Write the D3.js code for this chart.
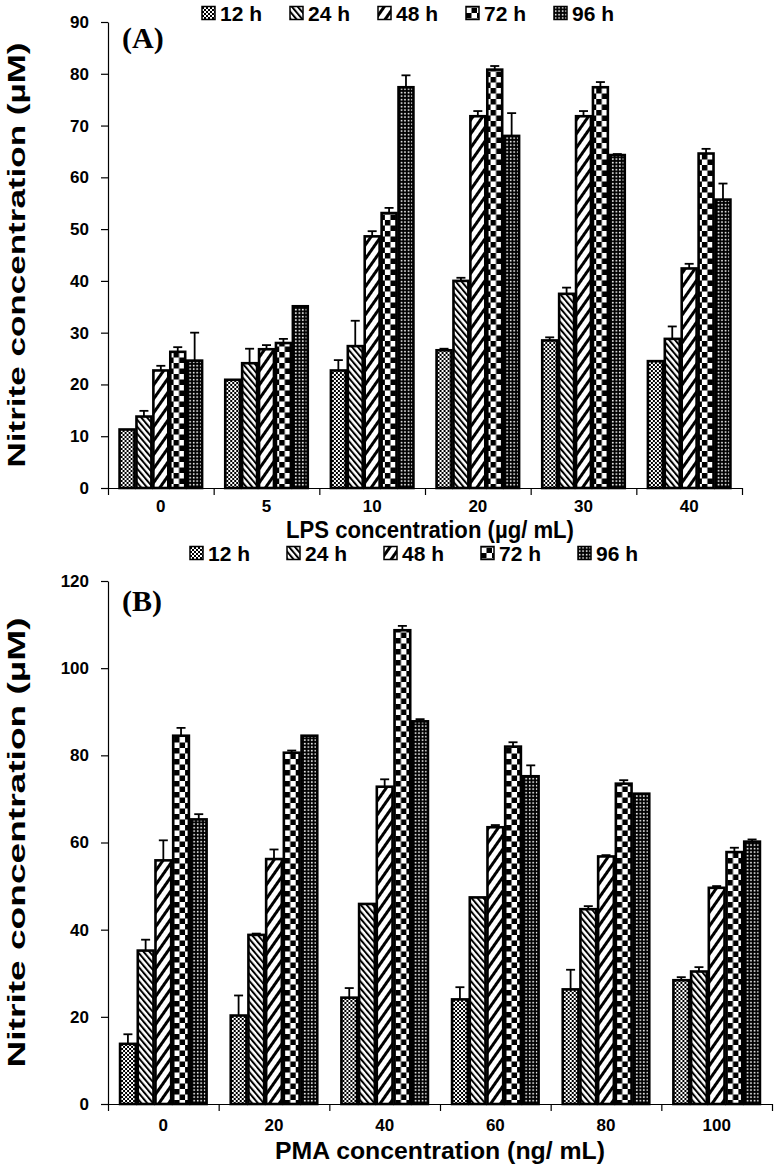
<!DOCTYPE html>
<html>
<head>
<meta charset="utf-8">
<script src="https://cdn.jsdelivr.net/npm/d3@7"></script>
<style>
  body { margin: 0; background: #fff; }
  svg { display: block; }
  text { font-family: "Liberation Sans", Arial, sans-serif; font-weight: bold; fill: #000; }
</style>
</head>
<body>
<div id="chart"></div>
<script>
// series (incubation time)
const series = ["12 h", "24 h", "48 h", "72 h", "96 h"];

// Panel A: LPS
const lpsDoses = ["0", "5", "10", "20", "30", "40"];
const lps12h = [11.3, 20.9, 22.7, 26.6, 28.5, 24.5];
const lps24h = [13.8, 24.1, 27.4, 40.0, 37.5, 28.8];
const lps48h = [22.7, 26.8, 48.6, 71.8, 71.8, 42.4];
const lps72h = [26.3, 28.0, 53.1, 80.8, 77.4, 64.6];
const lps96h = [24.6, 35.1, 77.4, 68.0, 64.3, 55.7];
const lpsErr12h = [0, 0, 2.0, 0.3, 0.6, 0];
const lpsErr24h = [1.1, 2.8, 4.9, 0.6, 1.2, 2.4];
const lpsErr48h = [0.9, 0.8, 1.0, 1.0, 1.0, 0.9];
const lpsErr72h = [0.9, 0.8, 1.0, 0.7, 1.0, 0.9];
const lpsErr96h = [5.4, 0, 2.3, 4.4, 0.2, 3.1];
const lpsTicks = [0, 10, 20, 30, 40, 50, 60, 70, 80, 90];

// Panel B: PMA
const pmaDoses = ["0", "20", "40", "60", "80", "100"];
const pma12h = [13.8, 20.3, 24.4, 24.0, 26.3, 28.4];
const pma24h = [35.2, 38.8, 45.9, 47.4, 44.7, 30.4];
const pma48h = [55.9, 56.2, 72.8, 63.5, 56.8, 49.6];
const pma72h = [84.5, 80.6, 108.7, 82.0, 73.5, 57.8];
const pma96h = [65.3, 84.5, 87.8, 75.2, 71.2, 60.2];
const pmaErr12h = [2.2, 4.6, 2.2, 2.8, 4.5, 0.7];
const pmaErr24h = [2.5, 0.3, 0, 0, 0.7, 1.0];
const pmaErr48h = [4.6, 2.2, 1.7, 0.5, 0.3, 0.4];
const pmaErr72h = [1.8, 0.5, 1.0, 1.0, 0.8, 1.0];
const pmaErr96h = [1.2, 0, 0.5, 2.5, 0, 0.5];
const pmaTicks = [0, 20, 40, 60, 80, 100, 120];

const W = 776, H = 1168;

const svg = d3.select("#chart").append("svg")
    .attr("width", W)
    .attr("height", H);

// fill patterns for the five series
const defs = svg.append("defs");

function pattern(id, w, h, transform) {
    const p = defs.append("pattern")
        .attr("id", id)
        .attr("patternUnits", "userSpaceOnUse")
        .attr("width", w)
        .attr("height", h);
    if (transform) p.attr("patternTransform", transform);
    return p;
}

// 12 h: fine checker
const p12 = pattern("pat0", 4, 4);
p12.append("rect").attr("width", 4).attr("height", 4).attr("fill", "#000");
p12.append("rect").attr("x", 0).attr("y", 0).attr("width", 2).attr("height", 2).attr("fill", "#fff");
p12.append("rect").attr("x", 2).attr("y", 2).attr("width", 2).attr("height", 2).attr("fill", "#fff");

// 24 h: dense backslash stripes
const p24 = pattern("pat1", 4.5, 10, "rotate(-40)");
p24.append("rect").attr("width", 4.5).attr("height", 10).attr("fill", "#fff");
p24.append("rect").attr("width", 2).attr("height", 10).attr("fill", "#000");

// 48 h: wide slash stripes
const p48 = pattern("pat2", 8, 10, "rotate(35)");
p48.append("rect").attr("width", 8).attr("height", 10).attr("fill", "#fff");
p48.append("rect").attr("width", 3).attr("height", 10).attr("fill", "#000");

// 72 h: large checkerboard
const p72 = pattern("pat3", 11, 11);
p72.append("rect").attr("width", 11).attr("height", 11).attr("fill", "#fff");
p72.append("rect").attr("x", 0).attr("y", 0).attr("width", 5.5).attr("height", 5.5).attr("fill", "#000");
p72.append("rect").attr("x", 5.5).attr("y", 5.5).attr("width", 5.5).attr("height", 5.5).attr("fill", "#000");

// 96 h: black with small white dots
const p96 = pattern("pat4", 3.5, 3.5);
p96.append("rect").attr("width", 3.5).attr("height", 3.5).attr("fill", "#000");
p96.append("rect").attr("x", 0.8).attr("y", 0.8).attr("width", 1.6).attr("height", 1.6).attr("fill", "#fff");

function drawPanel(cfg) {
    const { doses, values, errors, ticks, yMax, x0, x1, yTop, yBottom } = cfg;

    const g = svg.append("g");

    const xScale = d3.scaleBand()
        .domain(doses)
        .range([x0, x1])
        .paddingInner(0.2)
        .paddingOuter(0.1);

    const xSeries = d3.scaleBand()
        .domain(series)
        .range([0, xScale.bandwidth()]);

    const yScale = d3.scaleLinear()
        .domain([0, yMax])
        .range([yBottom, yTop]);

    // category boundary ticks on the x axis
    const xEdges = d3.scaleLinear()
        .domain([0, doses.length])
        .range([x0, x1]);

    g.append("g")
        .attr("class", "x-axis")
        .attr("transform", `translate(0, ${yBottom})`)
        .call(d3.axisBottom(xEdges)
            .tickValues(d3.range(0, doses.length + 1))
            .tickSize(7)
            .tickSizeOuter(0)
            .tickFormat(""))
        .call(a => a.select(".domain").attr("stroke", "#000").attr("stroke-width", 1.2))
        .call(a => a.selectAll(".tick line").attr("stroke", "#000").attr("stroke-width", 1.2));

    // x labels at category centres
    g.append("g")
        .attr("class", "x-labels")
        .attr("transform", `translate(0, ${yBottom})`)
        .call(d3.axisBottom(xScale).tickSize(0).tickPadding(cfg.labelPad))
        .call(a => a.select(".domain").remove())
        .call(a => a.selectAll("text")
            .style("font-size", "17px")
            .style("font-family", "'Liberation Sans', Arial, sans-serif")
            .style("font-weight", "bold"));

    g.append("g")
        .attr("class", "y-axis")
        .attr("transform", `translate(${x0}, 0)`)
        .call(d3.axisLeft(yScale)
            .tickValues(ticks)
            .tickSize(7)
            .tickSizeOuter(0)
            .tickPadding(12))
        .call(a => a.select(".domain").attr("stroke", "#000").attr("stroke-width", 1.2))
        .call(a => a.selectAll(".tick line").attr("stroke", "#000").attr("stroke-width", 1.2))
        .call(a => a.selectAll("text")
            .style("font-size", "17px")
            .style("font-family", "'Liberation Sans', Arial, sans-serif")
            .style("font-weight", "bold"));

    // bars
    const rows = doses.map((d, i) => ({
        dose: d,
        bars: series.map((s, k) => ({ s, k, v: values[k][i], e: errors[k][i] }))
    }));

    const groups = g.selectAll(".dose")
        .data(rows)
        .enter()
        .append("g")
        .attr("class", "dose")
        .attr("transform", d => `translate(${xScale(d.dose)}, 0)`);

    const bars = groups.selectAll(".bar")
        .data(d => d.bars)
        .enter();

    // error bars (upper only), drawn first so bar outlines sit on top
    const errs = bars.filter(d => d.e > 0).append("g").attr("class", "err");
    errs.append("line")
        .attr("x1", d => xSeries(d.s) + xSeries.bandwidth() / 2)
        .attr("x2", d => xSeries(d.s) + xSeries.bandwidth() / 2)
        .attr("y1", d => yScale(d.v))
        .attr("y2", d => yScale(d.v + d.e))
        .attr("stroke", "#000")
        .attr("stroke-width", 1.8);
    errs.append("line")
        .attr("x1", d => xSeries(d.s) + xSeries.bandwidth() / 2 - 4.5)
        .attr("x2", d => xSeries(d.s) + xSeries.bandwidth() / 2 + 4.5)
        .attr("y1", d => yScale(d.v + d.e))
        .attr("y2", d => yScale(d.v + d.e))
        .attr("stroke", "#000")
        .attr("stroke-width", 1.8);

    bars.append("rect")
        .attr("class", "bar")
        .attr("x", d => xSeries(d.s) + 1)
        .attr("y", d => yScale(d.v))
        .attr("width", xSeries.bandwidth() - 2)
        .attr("height", d => yBottom - yScale(d.v))
        .attr("fill", d => `url(#pat${d.k})`)
        .attr("stroke", "#000")
        .attr("stroke-width", 2.6);

    // legend
    const legend = g.append("g")
        .attr("class", "legend")
        .attr("transform", `translate(${cfg.legendX}, ${cfg.legendY})`);

    const items = legend.selectAll(".item")
        .data(series)
        .enter()
        .append("g")
        .attr("class", "item")
        .attr("transform", (d, i) => `translate(${i * cfg.legendStep}, 0)`);

    items.append("rect")
        .attr("x", 0)
        .attr("y", -6.5)
        .attr("width", 13)
        .attr("height", 13)
        .attr("fill", (d, i) => `url(#pat${i})`)
        .attr("stroke", "#000")
        .attr("stroke-width", 1.5);

    items.append("text")
        .attr("x", 18)
        .attr("y", 0)
        .attr("dy", "0.36em")
        .style("font-size", "21px")
        .text(d => d);

    // panel letter
    g.append("text")
        .attr("x", x0 + 14)
        .attr("y", cfg.letterY)
        .attr("dy", "0.35em")
        .style("font-family", "'Liberation Serif', 'Times New Roman', serif")
        .style("font-size", "30px")
        .text(cfg.letter);

    // axis titles
    g.append("text")
        .attr("transform", `translate(${cfg.yTitleX}, ${(yTop + yBottom) / 2}) rotate(-90)`)
        .attr("text-anchor", "middle")
        .attr("dy", "0.35em")
        .attr("textLength", cfg.yTitleLen)
        .attr("lengthAdjust", "spacingAndGlyphs")
        .style("font-size", "24px")
        .text("Nitrite concentration (µM)");

    g.append("text")
        .attr("x", cfg.xTitleX)
        .attr("y", cfg.xTitleY)
        .attr("text-anchor", "middle")
        .attr("dy", "0.35em")
        .attr("textLength", cfg.xTitleLen)
        .attr("lengthAdjust", "spacingAndGlyphs")
        .style("font-size", cfg.xTitleSize + "px")
        .text(cfg.xTitle);
}

drawPanel({
    doses: lpsDoses,
    values: [lps12h, lps24h, lps48h, lps72h, lps96h],
    errors: [lpsErr12h, lpsErr24h, lpsErr48h, lpsErr72h, lpsErr96h],
    ticks: lpsTicks,
    yMax: 90,
    x0: 108, x1: 742,
    yTop: 22, yBottom: 488,
    labelPad: 12,
    legendX: 202, legendY: 13, legendStep: 88,
    letter: "(A)", letterY: 37,
    yTitleX: 17, yTitleLen: 425,
    xTitle: "LPS concentration (µg/ mL)", xTitleX: 430, xTitleY: 530, xTitleLen: 288, xTitleSize: 24
});

drawPanel({
    doses: pmaDoses,
    values: [pma12h, pma24h, pma48h, pma72h, pma96h],
    errors: [pmaErr12h, pmaErr24h, pmaErr48h, pmaErr72h, pmaErr96h],
    ticks: pmaTicks,
    yMax: 120,
    x0: 108, x1: 772,
    yTop: 581, yBottom: 1104,
    labelPad: 15,
    legendX: 190, legendY: 553, legendStep: 97,
    letter: "(B)", letterY: 600,
    yTitleX: 17, yTitleLen: 450,
    xTitle: "PMA concentration (ng/ mL)", xTitleX: 440, xTitleY: 1151, xTitleLen: 330, xTitleSize: 24
});
</script>
</body>
</html>
